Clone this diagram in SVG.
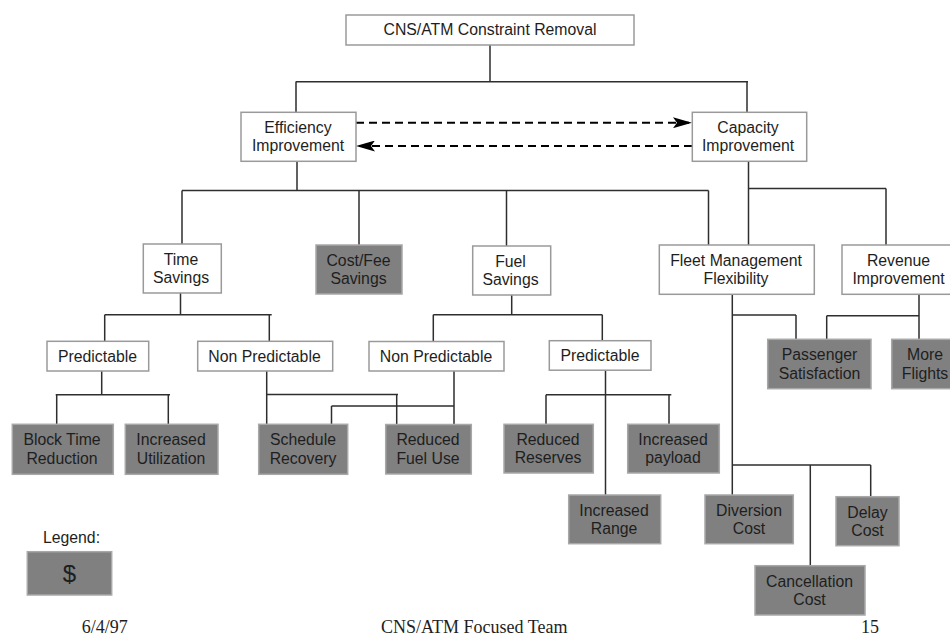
<svg xmlns="http://www.w3.org/2000/svg" width="950" height="636" viewBox="0 0 950 636">
<style>
  .box { fill: #ffffff; stroke: #9a9a9a; stroke-width: 1.5; }
  .gbox { fill: #808080; stroke: #a8a8a8; stroke-width: 1.5; }
  .t { font-family: "Liberation Sans", Arial, sans-serif; font-size: 15.8px; fill: #1e1e1e; text-anchor: middle; }
  .ft { font-family: "Liberation Serif", "Times New Roman", serif; font-size: 18px; fill: #1e1e1e; }
  .conn path { fill: none; stroke: #2e2e2e; stroke-width: 1.5; }
  .conn path.dash { fill: none; stroke: #000; stroke-width: 2; stroke-dasharray: 8 5; }
</style>
<defs>
  <marker id="ah" viewBox="0 0 19 11" refX="19" refY="5.5" markerWidth="19" markerHeight="11" markerUnits="userSpaceOnUse" orient="auto">
    <path d="M0,0 L19,5.5 L0,11 L4,5.5 Z" fill="#000"/>
  </marker>
</defs>
<rect width="950" height="636" fill="#ffffff"/>

<g id="connectors" class="conn">
  <path d="M490,45 V81.7 M295.7,81.7 H748 M296,81.7 V112.5 M747,81.7 V112.5"/>
  <path d="M297,161.3 V190.5 M182,190.5 H708.5 M182,190.5 V244 M359,190.5 V245 M506.5,190.5 V246 M708.5,190.5 V245"/>
  <path d="M748.5,161.3 V245 M748.5,188.5 H886 M886,188.5 V245"/>
  <path d="M180.5,293 V314.7 M104.7,314.7 H271.7 M104.7,314.7 V341.5 M269.3,314.7 V341.5"/>
  <path d="M511.7,295 V314.7 M433.3,314.7 H602.3 M433.3,314.7 V341.5 M602.3,314.7 V341"/>
  <path d="M101.7,371 V394.7 M55.7,394.7 H170 M56.7,394.7 V424.3 M168.3,394.7 V424.3"/>
  <path d="M266.7,371 V424.5 M266.7,394.5 H398 M396.7,394.5 V424.5"/>
  <path d="M454,371 V424.5 M331.5,406 H454 M331.5,406 V424.5"/>
  <path d="M605.5,370 V495 M546,394.7 H671.3 M546,394.7 V424.3 M669,394.7 V424.3"/>
  <path d="M732.3,294 V495 M732.3,315 H796 M796,315 V339.5"/>
  <path d="M732.3,465 H870.7 M810.3,465 V566 M870.7,465 V497"/>
  <path d="M919,294 V339.5 M826.7,315.7 H919 M826.7,315.7 V339.5"/>
  <path class="dash" d="M356,122.7 H692" marker-end="url(#ah)"/>
  <path class="dash" d="M692,146 H356" marker-end="url(#ah)"/>
</g>

<g id="root">
  <rect class="box" x="346" y="15" width="288" height="30"/>
  <text class="t" x="490" y="34.5">CNS/ATM Constraint Removal</text>
</g>
<g id="efficiency">
  <rect class="box" x="241" y="112.3" width="115" height="49"/>
  <text class="t" x="298" y="132.8">Efficiency<tspan x="298" dy="18.5">Improvement</tspan></text>
</g>
<g id="capacity">
  <rect class="box" x="692.3" y="112.3" width="114.4" height="49"/>
  <text class="t" x="748" y="132.8">Capacity<tspan x="748" dy="18.5">Improvement</tspan></text>
</g>
<g id="time-savings">
  <rect class="box" x="143.3" y="244" width="78" height="49"/>
  <text class="t" x="181" y="264.5">Time<tspan x="181" dy="18.5">Savings</tspan></text>
</g>
<g id="cost-fee-savings">
  <rect class="gbox" x="316" y="245" width="86" height="49"/>
  <text class="t" x="358.5" y="265.5">Cost/Fee<tspan x="358.5" dy="18.5">Savings</tspan></text>
</g>
<g id="fuel-savings">
  <rect class="box" x="472.7" y="246" width="78" height="49"/>
  <text class="t" x="510.5" y="266.5">Fuel<tspan x="510.5" dy="18.5">Savings</tspan></text>
</g>
<g id="fleet-management">
  <rect class="box" x="659.3" y="245" width="155" height="49.3"/>
  <text class="t" x="736" y="265.5">Fleet Management<tspan x="736" dy="18.5">Flexibility</tspan></text>
</g>
<g id="revenue-improvement">
  <rect class="box" x="842" y="245" width="114" height="49.3"/>
  <text class="t" x="898.5" y="265.5">Revenue<tspan x="898.5" dy="18.5">Improvement</tspan></text>
</g>
<g id="predictable-time">
  <rect class="box" x="47" y="341.3" width="101.7" height="29.7"/>
  <text class="t" x="97.5" y="361.5">Predictable</text>
</g>
<g id="non-predictable-time">
  <rect class="box" x="197.7" y="341.3" width="135" height="29.7"/>
  <text class="t" x="264.5" y="361.5">Non Predictable</text>
</g>
<g id="non-predictable-fuel">
  <rect class="box" x="369" y="341.5" width="135" height="29.5"/>
  <text class="t" x="436" y="361.5">Non Predictable</text>
</g>
<g id="predictable-fuel">
  <rect class="box" x="549.3" y="340.7" width="101.7" height="29.5"/>
  <text class="t" x="600" y="361">Predictable</text>
</g>
<g id="passenger-satisfaction">
  <rect class="gbox" x="767.7" y="339.3" width="103.3" height="49.4"/>
  <text class="t" x="819.5" y="360">Passenger<tspan x="819.5" dy="18.5">Satisfaction</tspan></text>
</g>
<g id="more-flights">
  <rect class="gbox" x="891.7" y="339.3" width="70" height="49.4"/>
  <text class="t" x="925" y="360">More<tspan x="925" dy="18.5">Flights</tspan></text>
</g>
<g id="block-time-reduction">
  <rect class="gbox" x="12.3" y="424.3" width="101" height="50"/>
  <text class="t" x="62" y="445">Block Time<tspan x="62" dy="18.5">Reduction</tspan></text>
</g>
<g id="increased-utilization">
  <rect class="gbox" x="125.3" y="424.3" width="92.7" height="50"/>
  <text class="t" x="171" y="445">Increased<tspan x="171" dy="18.5">Utilization</tspan></text>
</g>
<g id="schedule-recovery">
  <rect class="gbox" x="258.7" y="424.3" width="89" height="50"/>
  <text class="t" x="303" y="445">Schedule<tspan x="303" dy="18.5">Recovery</tspan></text>
</g>
<g id="reduced-fuel-use">
  <rect class="gbox" x="385.7" y="424.5" width="85.6" height="49.5"/>
  <text class="t" x="428" y="445">Reduced<tspan x="428" dy="18.5">Fuel Use</tspan></text>
</g>
<g id="reduced-reserves">
  <rect class="gbox" x="504" y="424.3" width="89.3" height="48.7"/>
  <text class="t" x="548" y="444.5">Reduced<tspan x="548" dy="18.5">Reserves</tspan></text>
</g>
<g id="increased-payload">
  <rect class="gbox" x="627.7" y="424.3" width="91.6" height="48.7"/>
  <text class="t" x="673" y="444.5">Increased<tspan x="673" dy="18.5">payload</tspan></text>
</g>
<g id="increased-range">
  <rect class="gbox" x="568.7" y="495" width="92" height="48.7"/>
  <text class="t" x="614" y="515.5">Increased<tspan x="614" dy="18.5">Range</tspan></text>
</g>
<g id="diversion-cost">
  <rect class="gbox" x="705" y="495" width="88.3" height="48.7"/>
  <text class="t" x="749" y="515.5">Diversion<tspan x="749" dy="18.5">Cost</tspan></text>
</g>
<g id="delay-cost">
  <rect class="gbox" x="836" y="496.7" width="63" height="49"/>
  <text class="t" x="867.5" y="517.5">Delay<tspan x="867.5" dy="18.5">Cost</tspan></text>
</g>
<g id="cancellation-cost">
  <rect class="gbox" x="755" y="565.7" width="110" height="49.3"/>
  <text class="t" x="809.5" y="586.5">Cancellation<tspan x="809.5" dy="18.5">Cost</tspan></text>
</g>

<g id="legend">
  <text class="t" x="71.5" y="543">Legend:</text>
  <rect class="gbox" x="27.3" y="551.7" width="84.4" height="43.3"/>
  <text class="t" x="69.5" y="582" style="font-size:24px">$</text>
</g>

<g id="footer">
  <text class="ft" x="81.7" y="633">6/4/97</text>
  <text class="ft" x="381" y="633">CNS/ATM Focused Team</text>
  <text class="ft" x="861" y="633">15</text>
</g>
</svg>
